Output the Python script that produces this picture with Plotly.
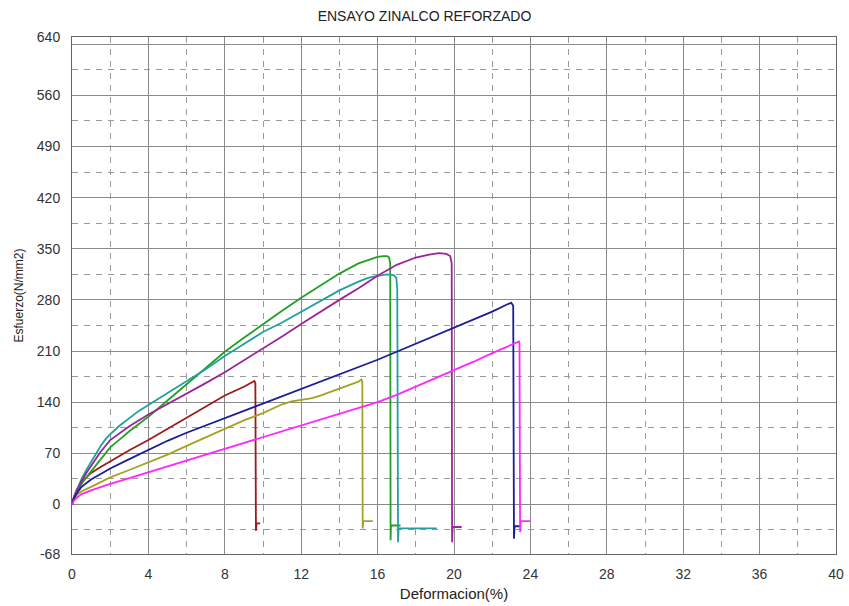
import plotly.graph_objects as go

# ---- data ----
red_x = [0, 0.1, 0.25, 0.5, 0.75, 1, 1.5, 2, 2.5, 3, 4, 5, 6, 7, 8, 9, 9.4, 9.55, 9.6, 9.63, 9.66, 9.85]
red_y = [0, 10, 20, 30, 37, 43, 51, 59, 67, 74, 88, 103, 119, 134, 149, 161, 167, 169, 166, -36, -26, -26]

olive_x = [0, 0.1, 0.25, 0.5, 1, 1.5, 2, 3, 4, 5, 6, 7, 8, 9, 10, 10.5, 11, 11.5, 12, 12.5, 13, 14, 14.5, 15, 15.15, 15.2, 15.22, 15.25, 15.75]
olive_y = [0, 8, 13, 18, 24, 31, 37, 47, 57, 68, 80, 92, 104, 115, 125, 131, 137, 141, 143, 145, 149, 158, 163, 168, 171, 168, -33, -23, -23]

green_x = [0, 0.1, 0.25, 0.5, 0.75, 1, 1.5, 2, 2.5, 3, 4, 5, 6, 7, 8, 9, 10, 11, 12, 13, 14, 15, 15.5, 16, 16.3, 16.5, 16.6, 16.66, 16.68, 16.7, 17.2]
green_y = [0, 8, 16, 28, 37, 45, 62, 78, 89, 100, 120, 142, 164, 187, 209, 228, 247, 265, 283, 300, 316, 330, 335, 339, 340, 340, 338, 330, -49, -29, -29]

teal_x = [0, 0.1, 0.25, 0.5, 0.75, 1, 1.25, 1.5, 1.75, 2, 2.5, 3, 3.5, 4, 5, 6, 7, 8, 9, 10, 11, 12, 13, 14, 15, 15.5, 16, 16.5, 16.85, 16.98, 17.03, 17.07, 17.1, 19.1]
teal_y = [0, 10, 20, 35, 47, 58, 70, 80, 89, 96, 108, 118, 128, 136, 152, 168, 185, 203, 220, 236, 249, 264, 279, 293, 305, 310, 313, 315, 314, 310, 295, -52, -33, -33]

purple_x = [0, 0.1, 0.25, 0.5, 0.75, 1, 1.5, 2, 2.5, 3, 4, 5, 6, 7, 8, 9, 10, 11, 12, 13, 14, 15, 16, 17, 18, 18.7, 19.2, 19.6, 19.8, 19.88, 19.9, 19.93, 20.4]
purple_y = [0, 9, 18, 32, 43, 53, 72, 88, 98, 107, 123, 137, 151, 166, 181, 197, 213, 230, 247, 264, 280, 296, 313, 328, 338, 342, 344, 343, 340, 330, -52, -31, -31]

blue_x = [0, 0.1, 0.25, 0.5, 1, 1.5, 2, 3, 4, 5, 6, 7, 8, 9, 10, 11, 12, 13, 14, 15, 16, 17, 18, 19, 20, 21, 22, 22.8, 23.0, 23.1, 23.14, 23.17, 23.45]
blue_y = [0, 8, 15, 24, 34, 42, 49, 62, 75, 87, 98, 108, 118, 128, 138, 148, 158, 167, 177, 187, 198, 209, 220, 231, 242, 253, 264, 274, 276, 272, -47, -30, -30]

magenta_x = [0, 0.1, 0.25, 0.5, 1, 1.5, 2, 3, 4, 6, 8, 10, 12, 14, 16, 17, 18, 19, 20, 21, 22, 23, 23.3, 23.4, 23.43, 23.46, 23.5, 23.98]
magenta_y = [0, 5, 9, 14, 19, 24, 28, 36, 44, 60, 76, 92, 108, 124, 140, 150, 161, 172, 183, 195, 207, 218, 222, 223, 220, -38, -23, -23]

x_ticks = [0, 4, 8, 12, 16, 20, 24, 28, 32, 36, 40]
x_minor = [2, 6, 10, 14, 18, 22, 26, 30, 34, 38]
y_ticks = [-68, 0, 70, 140, 210, 280, 350, 420, 490, 560, 630, 640]
y_labels = ["-68", "0", "70", "140", "210", "280", "350", "420", "490", "560", "", "640"]
y_minor = [-35, 35, 105, 175, 245, 315, 385, 455, 525, 595]

series = [
    (red_x, red_y, "#9c1a1a"),
    (olive_x, olive_y, "#a3a321"),
    (green_x, green_y, "#23a023"),
    (teal_x, teal_y, "#22a0a0"),
    (purple_x, purple_y, "#9a259a"),
    (blue_x, blue_y, "#1c1c96"),
    (magenta_x, magenta_y, "#ff26ff"),
]

fig = go.Figure()
for xs, ys, c in series:
    fig.add_trace(go.Scatter(x=xs, y=ys, mode="lines",
                             line=dict(color=c, width=1.8), showlegend=False))

font_family = "Liberation Sans, Arial, sans-serif"
fig.update_layout(
    width=849, height=606,
    margin=dict(l=72, r=13, t=37, b=52, autoexpand=False),
    paper_bgcolor="white", plot_bgcolor="white",
    font=dict(family=font_family, color="#333333", size=14),
    title=dict(text="ENSAYO ZINALCO REFORZADO", x=0.5, xref="container",
               y=1 - 16 / 606, yref="container", yanchor="middle", xanchor="center",
               font=dict(size=14, color="#222222")),
    showlegend=False,
)
fig.update_xaxes(
    range=[0, 40], tickmode="array", tickvals=x_ticks,
    ticktext=[str(v) for v in x_ticks], automargin=False,
    showgrid=True, gridcolor="#8a8a8a", gridwidth=1,
    minor=dict(tickmode="array", tickvals=x_minor, showgrid=True,
               gridcolor="#9a9a9a", griddash="6px,6px", gridwidth=1),
    showline=True, linecolor="#666666", linewidth=1, mirror=True,
    zeroline=False, ticks="", ticklabelstandoff=7,
    title=dict(text="Deformacion(%)", font=dict(size=15, color="#222222"), standoff=7),
)
fig.update_yaxes(
    range=[-68, 640], tickmode="array", tickvals=y_ticks, ticktext=y_labels,
    automargin=False,
    showgrid=True, gridcolor="#8a8a8a", gridwidth=1,
    minor=dict(tickmode="array", tickvals=y_minor, showgrid=True,
               gridcolor="#9a9a9a", griddash="6px,6px", gridwidth=1),
    showline=True, linecolor="#666666", linewidth=1, mirror=True,
    zeroline=False, ticks="", ticklabelstandoff=8,
    title=dict(text="Esfuerzo(N/mm2)", font=dict(size=12, color="#222222"), standoff=10),
)

fig.write_html("out.html")
